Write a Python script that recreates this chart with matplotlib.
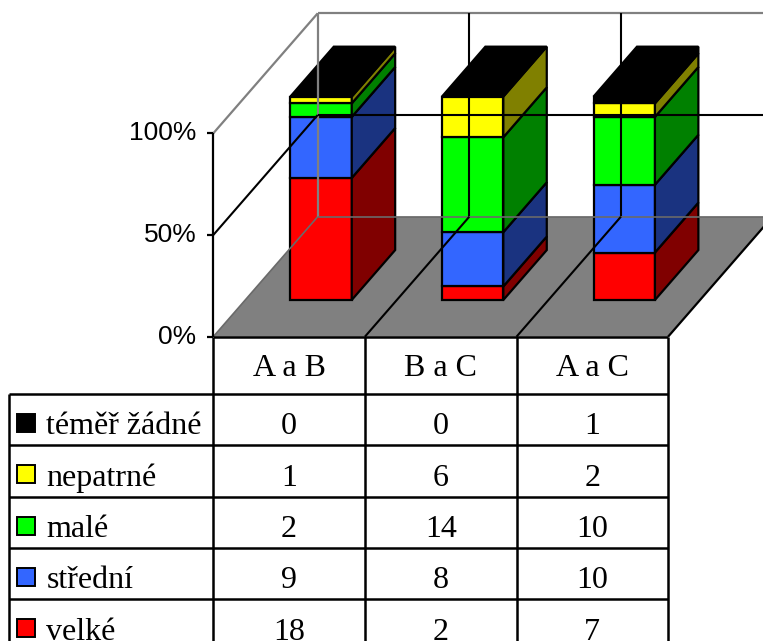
import numpy as np
import matplotlib
matplotlib.use("Agg")
import matplotlib.pyplot as plt
from matplotlib.patches import Polygon, Rectangle

# ---- data -------------------------------------------------------------
categories = ["A a B", "B a C", "A a C"]
# stacking order, bottom to top
series_names = ["velké", "střední", "malé", "nepatrné", "téměř žádné"]
velke = [18, 2, 7]
stredni = [9, 8, 10]
male = [2, 14, 10]
nepatrne = [1, 6, 2]
temer_zadne = [0, 0, 1]
value_ticks = [0, 50, 100]
value_tick_labels = ["0%", "50%", "100%"]

front_colors = ["#FF0000", "#3366FF", "#00FF00", "#FFFF00", "#000000"]
side_colors = ["#800000", "#1A3380", "#008000", "#808000", "#000000"]

# ---- layout -----------------------------------------------------------
W, H = 763, 641
fig = plt.figure(figsize=(W / 100, H / 100), dpi=100)

X0, Y0 = 213.3, 336.7          # front-left corner of the floor (pixels from top-left)
CAT_PX = 151.6                 # width of one category (pixels)
PCT_PX = 2.034                 # pixels per percent
DEPTH_DX_PX, DEPTH_DY_PX = 104.4, 120.0

ax = fig.add_axes([0, 0, 1, 1])
ax.set_xlim(-X0 / CAT_PX, (W - X0) / CAT_PX)
ax.set_ylim(-(H - Y0) / PCT_PX, Y0 / PCT_PX)
ax.axis("off")

DX = DEPTH_DX_PX / CAT_PX
DY = DEPTH_DY_PX / PCT_PX
n = len(categories)


def P(x, d, p):
    """Oblique projection: category position x, depth d (0..1), percent p."""
    return (x + d * DX, p + d * DY)


def seg(a, b, **kw):
    ax.plot([a[0], b[0]], [a[1], b[1]], solid_capstyle="butt", **kw)


GRAY = "#808080"

# walls
ax.add_patch(Polygon([P(0, 0, 0), P(0, 1, 0), P(0, 1, 100), P(0, 0, 100)],
                     closed=True, facecolor="white", edgecolor="none"))
ax.add_patch(Polygon([P(0, 1, 0), P(n, 1, 0), P(n, 1, 100), P(0, 1, 100)],
                     closed=True, facecolor="white", edgecolor="none"))
seg(P(0, 0, 100), P(0, 1, 100), color=GRAY, lw=1.6)
seg(P(0, 1, 0), P(0, 1, 100), color=GRAY, lw=1.6)
seg(P(0, 1, 100), P(n, 1, 100), color=GRAY, lw=1.6)
seg(P(n, 1, 0), P(n, 1, 100), color=GRAY, lw=1.6)

# value gridlines on the walls
for v in value_ticks[1:-1]:
    seg(P(0, 0, v), P(0, 1, v), color="black", lw=1.5)
    seg(P(0, 1, v), P(n, 1, v), color="black", lw=1.5)
# category gridlines on the back wall
for i in range(1, n):
    seg(P(i, 1, 0), P(i, 1, 100), color="black", lw=1.5)

# floor
ax.add_patch(Polygon([P(0, 0, 0), P(n, 0, 0), P(n, 1, 0), P(0, 1, 0)],
                     closed=True, facecolor=GRAY, edgecolor="none"))
seg(P(0, 1, 0), P(n, 1, 0), color="#6A6A6A", lw=1.2)
seg(P(0, 0, 0), P(0, 1, 0), color="#6A6A6A", lw=1.2)
for i in range(1, n):
    seg(P(i, 0, 0), P(i, 1, 0), color="black", lw=1.5)
seg(P(n, 0, 0), P(n, 1, 0), color="black", lw=1.6)

# stacked 100% bars
stack = np.array([velke, stredni, male, nepatrne, temer_zadne], dtype=float)
pct = stack / stack.sum(axis=0) * 100
cum = np.vstack([np.zeros(n), np.cumsum(pct, axis=0)])

BAR_W = 0.405
D0, DD = 0.306, 0.416
EDGE = dict(edgecolor="black", linewidth=1.6, joinstyle="miter")
for j in range(n):
    xl, xr = j + 0.5 - BAR_W / 2, j + 0.5 + BAR_W / 2
    for k in range(len(series_names)):
        lo, hi = cum[k, j], cum[k + 1, j]
        if hi - lo <= 0:
            continue
        ax.add_patch(Polygon([P(xl, D0, lo), P(xr, D0, lo), P(xr, D0, hi), P(xl, D0, hi)],
                             closed=True, facecolor=front_colors[k], **EDGE))
        ax.add_patch(Polygon([P(xr, D0, lo), P(xr, D0 + DD, lo), P(xr, D0 + DD, hi), P(xr, D0, hi)],
                             closed=True, facecolor=side_colors[k], **EDGE))
    top = cum[-1, j]
    ax.add_patch(Polygon([P(xl, D0, top), P(xr, D0, top), P(xr, D0 + DD, top), P(xl, D0 + DD, top)],
                         closed=True, facecolor=side_colors[-1], **EDGE))

# value axis
seg(P(0, 0, 0), P(0, 0, 100), color="black", lw=1.6)
tick_len = 6 / CAT_PX
for v, lab in zip(value_ticks, value_tick_labels):
    ax.plot([-tick_len, 0], [v, v], color="black", lw=1.6, solid_capstyle="butt")
    ax.text(-17 / CAT_PX, v, lab, ha="right", va="center",
            fontsize=19, family="Liberation Sans", color="black")

# ---- data table -------------------------------------------------------
ROW_PX = 51.4
HEAD = 57.0 / ROW_PX
LBL = (X0 - 9.3) / CAT_PX
tax = fig.add_axes([0, 0, 1, (H - Y0) / H])
tax.set_xlim(-X0 / CAT_PX, (W - X0) / CAT_PX)
tax.set_ylim((H - Y0) / ROW_PX, 0)
tax.axis("off")
tax.patch.set_alpha(0)

LW = 1.8
bottom = (H - Y0) / ROW_PX + 0.5
tax.plot([0, n], [0, 0], color="black", lw=LW, solid_capstyle="butt", clip_on=False)
for r in range(len(series_names) + 1):
    y = HEAD + r
    tax.plot([-LBL, n], [y, y], color="black", lw=LW, solid_capstyle="butt")
for i in range(n + 1):
    tax.plot([i, i], [0, bottom], color="black", lw=LW, solid_capstyle="butt")
tax.plot([-LBL, -LBL], [HEAD, bottom], color="black", lw=LW, solid_capstyle="butt")

TFONT = dict(family="Liberation Serif", fontsize=23, color="black")
for i, c in enumerate(categories):
    tax.text(i + 0.5, 39.0 / ROW_PX, c, ha="center", va="baseline", **TFONT)

table_rows = list(zip(series_names, stack, front_colors))[::-1]
for r, (name, vals, col) in enumerate(table_rows):
    top_y = HEAD + r
    base = top_y + 40.5 / ROW_PX
    tax.add_patch(Rectangle(((16.7 - X0) / CAT_PX, top_y + 20.0 / ROW_PX),
                            18.6 / CAT_PX, 18.0 / ROW_PX,
                            facecolor=col, edgecolor="black", linewidth=1.4))
    tax.text((46.5 - X0) / CAT_PX, base, name, ha="left", va="baseline", **TFONT)
    for i, v in enumerate(vals):
        tax.text(i + 0.5, base, f"{int(v)}", ha="center", va="baseline", **TFONT)

fig.savefig("out.png", dpi=100)
